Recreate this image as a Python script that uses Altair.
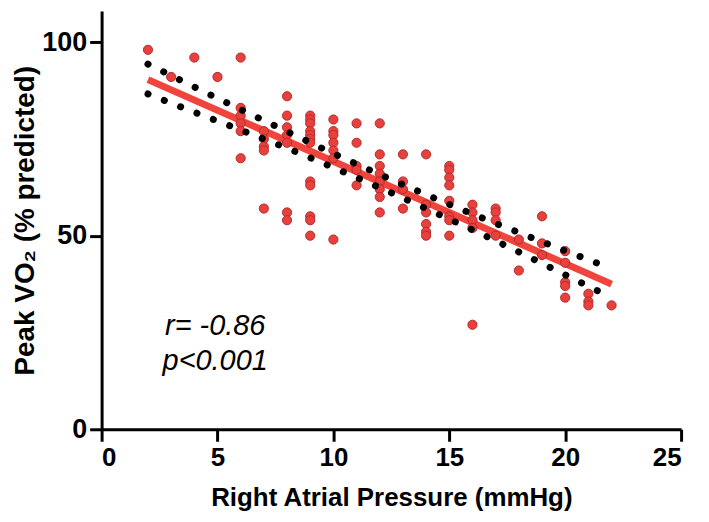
import altair as alt
import pandas as pd

# Right atrial pressure (mmHg) columns and the Peak VO2 (% predicted) values in each
ra_values = [2, 3, 4, 5, 6, 7, 8, 9, 10, 11, 12, 13, 14, 15, 16, 17, 18, 19, 20, 21, 22]
vo2_by_ra = [
    [98],
    [91],
    [96],
    [91],
    [96, 83, 81, 79, 77, 70],
    [77, 75, 73, 72, 57],
    [86, 81, 78, 76, 74, 56, 54],
    [81, 80, 79, 77, 76, 75, 74, 64, 63, 55, 54, 50],
    [80, 77, 76, 74, 72, 70, 49],
    [79, 74, 68, 67, 63],
    [79, 71, 68, 66, 64, 62, 60, 56],
    [71, 64, 62, 57],
    [71, 58, 56, 53, 51, 50],
    [68, 67, 65, 63, 59, 55, 54, 50],
    [58, 56, 54, 52, 27],
    [57, 56, 54, 50],
    [49, 41],
    [55, 48, 45],
    [46, 43, 38, 37, 34],
    [35, 33, 32],
    [32],
]

# regression line end points
fit_x = [2, 22]
fit_y = [90.3, 37.5]

# 95% confidence band (dotted)
band_x = [2, 4, 6, 8, 10, 12, 14, 16, 18, 20, 22]
band_upper = [94.3, 88.4, 82.6, 76.9, 71.2, 65.8, 60.6, 55.6, 50.8, 46.1, 41.5]
band_lower = [86.6, 81.9, 77.3, 72.6, 67.6, 62.4, 57.0, 51.5, 45.8, 39.9, 34.0]

# annotation
ann_text = ["r= -0.86", "p<0.001"]
ann_x = [4.9, 4.9]
ann_y = [24.4, 15.4]

pts = pd.DataFrame(
    [{"ra": x, "vo2": v} for x, vs in zip(ra_values, vo2_by_ra) for v in vs]
)
fit = pd.DataFrame({"ra": fit_x, "vo2": fit_y})
band = pd.DataFrame(
    [{"ra": x, "vo2": u, "side": "upper"} for x, u in zip(band_x, band_upper)]
    + [{"ra": x, "vo2": l, "side": "lower"} for x, l in zip(band_x, band_lower)]
)
ann = pd.DataFrame({"t": ann_text, "ra": ann_x, "vo2": ann_y})

FONT = "Liberation Sans"

xscale = alt.Scale(domain=[0, 25], nice=False, zero=False)
yscale = alt.Scale(domain=[0, 108], nice=False, zero=False)

xaxis = alt.Axis(
    values=[0, 5, 10, 15, 20, 25], grid=False,
    domainColor="black", domainWidth=3, tickColor="black", tickWidth=3, tickSize=12,
    labelFont=FONT, labelFontWeight="bold", labelFontSize=26, labelColor="black",
    labelPadding=3, title="Right Atrial Pressure (mmHg)", titleFont=FONT,
    titleFontSize=26, titleFontWeight="bold", titleColor="black", titlePadding=15,
)
yaxis = alt.Axis(
    values=[0, 50, 100], grid=False,
    domainColor="black", domainWidth=3, tickColor="black", tickWidth=3, tickSize=12,
    labelFont=FONT, labelFontWeight="bold", labelFontSize=27, labelColor="black",
    labelPadding=3, title="Peak VO₂ (% predicted)", titleFont=FONT,
    titleFontSize=28, titleFontWeight="bold", titleColor="black", titlePadding=2,
)

X = alt.X("ra:Q", scale=xscale, axis=xaxis)
Y = alt.Y("vo2:Q", scale=yscale, axis=yaxis)

line = alt.Chart(fit).mark_line(color="#f0443c", strokeWidth=7).encode(x=X, y=Y)

points = alt.Chart(pts).mark_point(
    shape="circle", filled=True, size=85, fill="#e8403d", stroke="#b32b2b",
    strokeWidth=1, opacity=1,
).encode(x=X, y=Y)

bands = alt.Chart(band).mark_line(
    color="black", strokeWidth=7, strokeCap="round", strokeDash=[0.1, 17.5],
    interpolate="monotone",
).encode(x=X, y=Y, detail="side:N")

text = alt.Chart(ann).mark_text(
    font=FONT, fontSize=29, fontStyle="italic", color="black", align="center",
    baseline="alphabetic",
).encode(x=X, y=Y, text="t:N")

chart = (
    alt.layer(line, points, bands, text)
    .properties(
        width=582, height=420,
        autosize=alt.AutoSizeParams(type="none"),
        padding={"left": 94, "top": 2, "right": 20, "bottom": 90},
    )
    .configure_view(stroke=None)
)

chart.save("out.html", embed_options={"renderer": "svg", "actions": False})
